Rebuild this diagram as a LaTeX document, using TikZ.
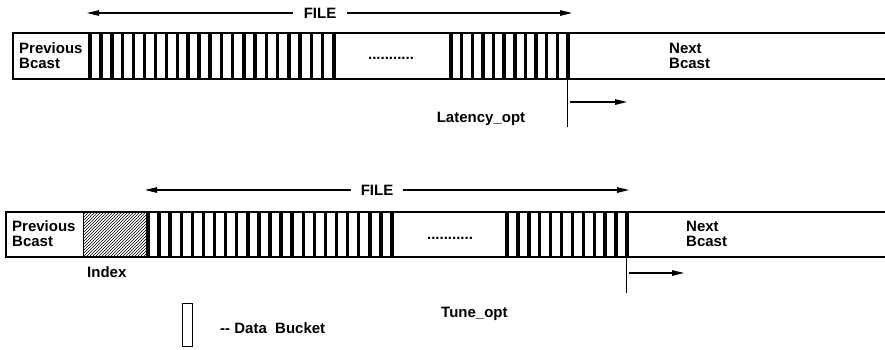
\documentclass[tikz,border=0pt]{standalone}
\usepackage{fontspec}
\setmainfont{Liberation Sans}
\usetikzlibrary{arrows.meta,patterns}

\begin{document}
\begin{tikzpicture}[x=1pt,y=-1pt]
    \tikzstyle{every node}+=[inner sep=0pt, font=\fontsize{15}{15}\selectfont\bfseries]
    \tikzstyle{frame}=[black, line width=1.8pt]
    \tikzstyle{thin}=[black, line width=0.8pt]
    \tikzstyle{sep}=[black, line width=3.5pt]
    \tikzstyle{fwd}=[black, line width=1.2pt, -{Triangle[length=12pt,width=5.5pt]}]
    \tikzstyle{label}=[anchor=west, align=left]
    \useasboundingbox (0,0) rectangle (885,349);
    \draw [frame] (885,33) -- (13,33) -- (13,79) -- (885,79);
    \draw [thin] (90,33) -- (90,79);
    \draw [thin] (334,33) -- (334,79);
    \draw [thin] (451,33) -- (451,79);
    \draw [thin] (568,33) -- (568,79);
    \foreach \a/\b in {90/210,210/334,451/568}
        \foreach \k in {0,...,11}
            \draw [sep] ({\a+\k*(\b-\a)/11},33) -- ++(0,46);
    \node [label] (prev1) at (19,55.5) {Previous\\Bcast};
    \node [label] (next1) at (669,55.5) {Next\\Bcast};
    \node (dots1) at (391,58) {...........};
    \node (file1) [inner xsep=11pt] at (320,13) {FILE};
    \coordinate (file1l) at (87,13);
    \coordinate (file1r) at (572,13);
    \draw [fwd] (file1) -- (file1l);
    \draw [fwd] (file1) -- (file1r);
    \coordinate (lat1) at (567,79);
    \coordinate (lat2) at (567,127);
    \draw [thin] (lat1) -- (lat2);
    \coordinate (lata) at (570,102);
    \coordinate (latb) at (627,102);
    \draw [fwd] (lata) -- (latb);
    \node [anchor=base] (latency) at (481,122) {Latency\_opt};
    \draw [frame] (885,212) -- (6,212) -- (6,257) -- (885,257);
    \node [pattern=north east lines, draw=black, line width=0.8pt, minimum width=65pt, minimum height=45pt] (index) at (115.5,234.5) {};
    \draw [thin] (392,212) -- (392,257);
    \draw [thin] (507,212) -- (507,257);
    \draw [thin] (627,212) -- (627,257);
    \foreach \a/\b in {148/270,270/392,507/627}
        \foreach \k in {0,...,11}
            \draw [sep] ({\a+\k*(\b-\a)/11},212) -- ++(0,45);
    \node [label] (prev2) at (12,234) {Previous\\Bcast};
    \node [label] (next2) at (686,234) {Next\\Bcast};
    \node (dots2) at (450,238) {...........};
    \node [anchor=base west] (idx) at (87,277) {Index};
    \node (file2) [inner xsep=10pt] at (377,190) {FILE};
    \coordinate (file2l) at (145,190);
    \coordinate (file2r) at (629,190);
    \draw [fwd] (file2) -- (file2l);
    \draw [fwd] (file2) -- (file2r);
    \coordinate (tun1) at (626,257);
    \coordinate (tun2) at (626,293);
    \draw [thin] (tun1) -- (tun2);
    \coordinate (tuna) at (629,273);
    \coordinate (tunb) at (684,273);
    \draw [fwd] (tuna) -- (tunb);
    \node [anchor=base west] (tune) at (441,317) {Tune\_opt};
    \node [draw=black, line width=0.8pt, minimum width=10pt, minimum height=43pt] (bucket) at (187,324.5) {};
    \node [anchor=base west] (legend) at (220,333) {-{}- Data\ \ Bucket};
\end{tikzpicture}
\end{document}
